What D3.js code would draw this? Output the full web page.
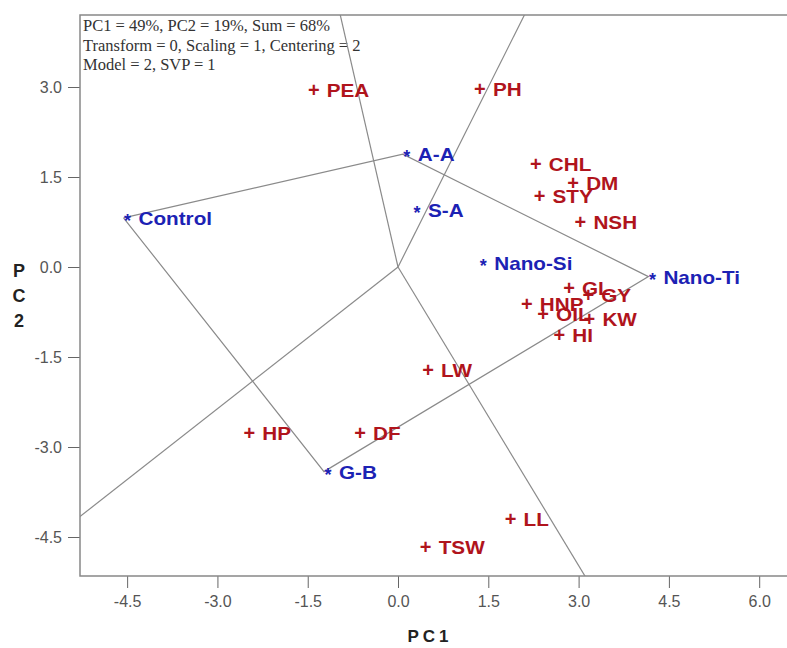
<!DOCTYPE html>
<html>
<head>
<meta charset="utf-8">
<script src="https://cdn.jsdelivr.net/npm/d3@7"></script>
<style>
  body { margin: 0; background: #fff; }
  svg { display: block; }
</style>
</head>
<body>
<div id="chart"></div>
<script>
// treatments (blue *) and traits (red +), biplot coordinates
const treatNames = ['Control', 'A-A', 'S-A', 'Nano-Si', 'Nano-Ti', 'G-B'];
const treatPC1 = [-4.56, 0.08, 0.25, 1.35, 4.16, -1.23];
const treatPC2 = [0.82, 1.88, 0.95, 0.07, -0.16, -3.41];

const traitNames = ['PEA', 'PH', 'CHL', 'DM', 'STY', 'NSH', 'GL', 'HNP', 'GY', 'OIL', 'KW', 'HI', 'LW', 'HP', 'DF', 'LL', 'TSW'];
const traitPC1 = [-1.40, 1.36, 2.29, 2.91, 2.35, 3.03, 2.84, 2.14, 3.16, 2.41, 3.18, 2.68, 0.50, -2.47, -0.63, 1.87, 0.46];
const traitPC2 = [2.95, 2.96, 1.71, 1.40, 1.18, 0.75, -0.35, -0.61, -0.47, -0.79, -0.86, -1.14, -1.71, -2.76, -2.76, -4.20, -4.66];

// polygon (convex hull) vertices, in order
const hullNames = ['Control', 'A-A', 'Nano-Ti', 'G-B'];

const xTicks = [-4.5, -3.0, -1.5, 0.0, 1.5, 3.0, 4.5, 6.0];
const yTicks = [-4.5, -3.0, -1.5, 0.0, 1.5, 3.0];

const infoLines = [
  'PC1 = 49%, PC2 = 19%, Sum = 68%',
  'Transform = 0, Scaling = 1, Centering = 2',
  'Model = 2, SVP = 1'
];

const width = 787, height = 648;
const plot = { left: 80, top: 15, right: 787, bottom: 576 };

const x = d3.scaleLinear().domain([-5.283, 6.462]).range([plot.left, plot.right]);
const y = d3.scaleLinear().domain([4.2, -5.15]).range([plot.top, plot.bottom]);

const svg = d3.select('#chart').append('svg')
  .attr('width', width)
  .attr('height', height);

svg.append('defs').append('clipPath').attr('id', 'clip')
  .append('rect')
  .attr('x', plot.left).attr('y', plot.top)
  .attr('width', plot.right - plot.left).attr('height', plot.bottom - plot.top);

const lineColor = '#8a8a8a';
const fmt = d => d3.format('.1f')(d).replace('−', '-');

// x axis
const xAxis = svg.append('g')
  .attr('transform', `translate(0,${plot.bottom})`)
  .call(d3.axisBottom(x).tickValues(xTicks).tickFormat(fmt).tickSize(12).tickPadding(8));
xAxis.select('.domain').remove();

// y axis
const yAxis = svg.append('g')
  .attr('transform', `translate(${plot.left},0)`)
  .call(d3.axisLeft(y).tickValues(yTicks).tickFormat(fmt).tickSize(12).tickPadding(6));
yAxis.select('.domain').remove();

svg.selectAll('.tick line').attr('stroke', '#666').attr('stroke-width', 1);
svg.selectAll('.tick text')
  .attr('fill', '#555')
  .style('font-family', '"Liberation Sans Narrow", "Arial Narrow", Arial, sans-serif')
  .style('font-size', '16px');

// frame: left, top, bottom (no right edge)
svg.append('path')
  .attr('d', `M${plot.right},${plot.top}H${plot.left}V${plot.bottom}H${plot.right}`)
  .attr('fill', 'none')
  .attr('stroke', '#888')
  .attr('stroke-width', 1.5);

// axis titles
svg.append('text')
  .attr('x', 430).attr('y', 642)
  .attr('text-anchor', 'middle')
  .style('font-family', 'Arial, "Liberation Sans", sans-serif')
  .style('font-weight', 'bold')
  .style('font-size', '17px')
  .style('letter-spacing', '4px')
  .attr('fill', '#222')
  .text('PC1');

['P', 'C', '2'].forEach((ch, i) => {
  svg.append('text')
    .attr('x', 19).attr('y', 277 + i * 25)
    .attr('text-anchor', 'middle')
    .style('font-family', 'Arial, "Liberation Sans", sans-serif')
    .style('font-weight', 'bold')
    .style('font-size', '18px')
    .attr('fill', '#222')
    .text(ch);
});

// info text
svg.append('g').selectAll('text')
  .data(infoLines)
  .enter()
  .append('text')
  .attr('x', 83)
  .attr('y', (d, i) => 31 + i * 19.5)
  .style('font-family', '"Liberation Serif", "Times New Roman", serif')
  .style('font-size', '16.5px')
  .attr('fill', '#333')
  .text(d => d);

// polygon and perpendicular rays
const lines = svg.append('g').attr('clip-path', 'url(#clip)');
const hull = hullNames.map(n => {
  const i = treatNames.indexOf(n);
  return [treatPC1[i], treatPC2[i]];
});

lines.append('path')
  .attr('d', d3.line().x(d => x(d[0])).y(d => y(d[1]))(hull.concat([hull[0]])))
  .attr('fill', 'none')
  .attr('stroke', lineColor)
  .attr('stroke-width', 1.2);

hull.forEach((p, i) => {
  const q = hull[(i + 1) % hull.length];
  const dx = q[0] - p[0], dy = q[1] - p[1];
  // outward normal (hull runs clockwise in data space)
  let nx = -dy, ny = dx;
  const len = Math.sqrt(nx * nx + ny * ny);
  nx /= len; ny /= len;
  const far = 20;
  lines.append('line')
    .attr('x1', x(0)).attr('y1', y(0))
    .attr('x2', x(nx * far)).attr('y2', y(ny * far))
    .attr('stroke', lineColor)
    .attr('stroke-width', 1.2);
});

const labelFont = 'Arial, "Liberation Sans", sans-serif';

// traits
const traitG = svg.append('g').selectAll('g')
  .data(traitNames)
  .enter()
  .append('g')
  .attr('transform', (d, i) => `translate(${x(traitPC1[i])},${y(traitPC2[i])})`)
  .attr('fill', '#b0141c')
  .style('font-family', labelFont)
  .style('font-weight', 'bold');

traitG.append('text')
  .attr('text-anchor', 'middle')
  .attr('y', 7)
  .style('font-size', '20px')
  .text('+');

traitG.append('text')
  .attr('transform', 'translate(13,7) scale(1.15,1)')
  .style('font-size', '18px')
  .text(d => d);

// treatments
const treatG = svg.append('g').selectAll('g')
  .data(treatNames)
  .enter()
  .append('g')
  .attr('transform', (d, i) => `translate(${x(treatPC1[i])},${y(treatPC2[i])})`)
  .attr('fill', '#1c22b4')
  .style('font-family', labelFont)
  .style('font-weight', 'bold');

treatG.append('text')
  .attr('text-anchor', 'middle')
  .attr('x', 4)
  .attr('y', 9)
  .style('font-size', '18px')
  .text('*');

treatG.append('text')
  .attr('transform', 'translate(15,7) scale(1.15,1)')
  .style('font-size', '18px')
  .text(d => d);
</script>
</body>
</html>
